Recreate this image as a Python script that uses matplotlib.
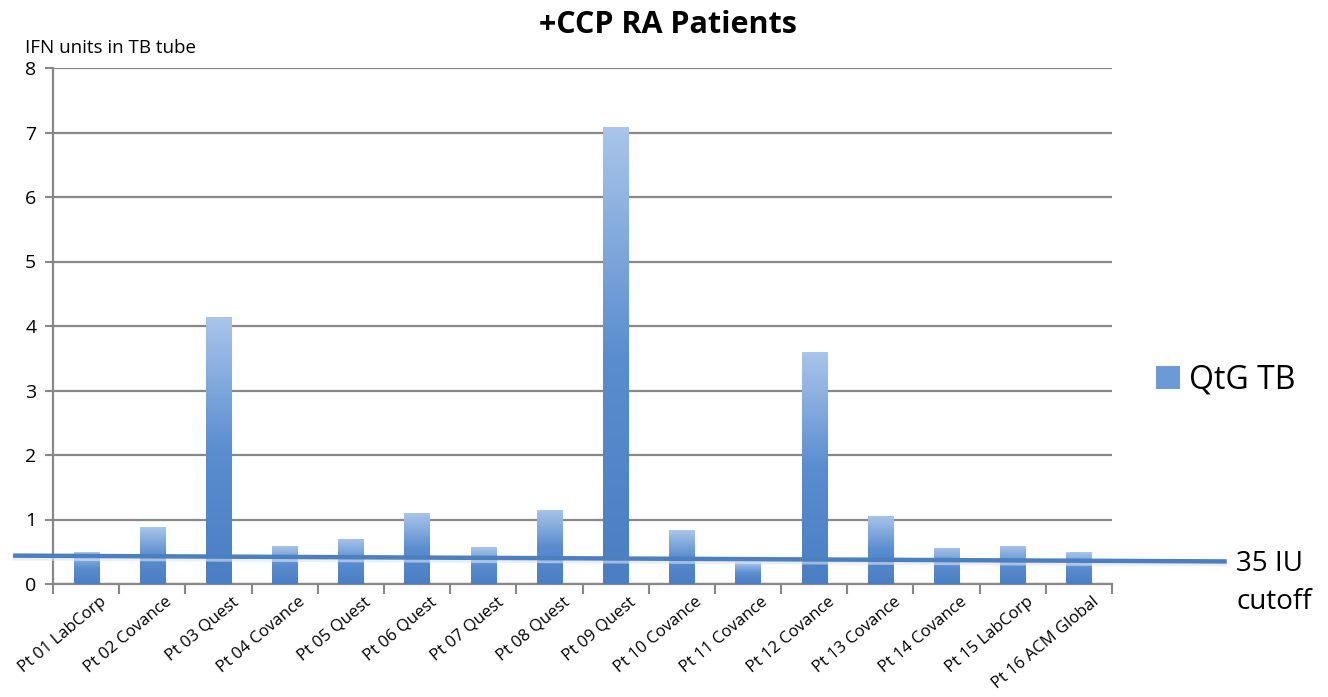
import numpy as np
import matplotlib
matplotlib.use("Agg")
import matplotlib.pyplot as plt
import matplotlib.transforms as mtransforms
from matplotlib.colors import LinearSegmentedColormap
from matplotlib.patches import Patch

# Data
patients = ["Pt 01 LabCorp", "Pt 02 Covance", "Pt 03 Quest", "Pt 04 Covance",
            "Pt 05 Quest", "Pt 06 Quest", "Pt 07 Quest", "Pt 08 Quest",
            "Pt 09 Quest", "Pt 10 Covance", "Pt 11 Covance", "Pt 12 Covance",
            "Pt 13 Covance", "Pt 14 Covance", "Pt 15 LabCorp", "Pt 16 ACM Global"]
qtg_tb = [0.49, 0.88, 4.14, 0.59, 0.70, 1.10, 0.57, 1.15,
          7.08, 0.83, 0.34, 3.60, 1.06, 0.56, 0.59, 0.49]
cutoff_x = [-1.07, 17.2]
cutoff_y = [0.44, 0.35]
y_ticks = [0, 1, 2, 3, 4, 5, 6, 7, 8]

plt.rcParams['font.family'] = ['Open Sans', 'DejaVu Sans']

fig = plt.figure(figsize=(13.28, 6.97), dpi=100)
ax = fig.add_axes([53 / 1328, 113 / 697, (1112 - 53) / 1328, (584 - 68) / 697])

x = np.arange(len(patients))
bars = ax.bar(x, qtg_tb, width=0.38, color='#5b8fd0', zorder=2)

# gradient fill: light at top, darker at bottom
cmap = LinearSegmentedColormap.from_list('blu', ['#4a7fc4', '#5a8dcf', '#a9c5ea'])
grad = np.linspace(0, 1, 256).reshape(-1, 1)
for b in bars:
    x0, y0 = b.get_x(), b.get_y()
    w, h = b.get_width(), b.get_height()
    im = ax.imshow(grad, cmap=cmap, aspect='auto', origin='lower',
                   extent=[x0, x0 + w, y0, y0 + h], zorder=3)
    im.set_clip_path(b)

ax.set_xlim(-0.5, len(patients) - 0.5)
ax.set_ylim(0, 8)
ax.set_yticks(y_ticks)
ax.tick_params(axis='y', labelsize=14, length=6, width=1.5, color='#888888', pad=6)
ax.grid(axis='y', color='#888888', linewidth=1.6, zorder=0)
ax.set_axisbelow(True)

ax.set_xticks(np.arange(len(patients) + 1) - 0.5)
ax.set_xticks(x, minor=True)
ax.set_xticklabels([])
ax.set_xticklabels(patients, minor=True, rotation=40, ha='right',
                   rotation_mode='anchor', fontsize=12)
ax.tick_params(axis='x', which='major', length=7, width=1.5, color='#888888')
ax.tick_params(axis='x', which='minor', length=0, pad=7)
offset = mtransforms.ScaledTranslation(0.13, 0, fig.dpi_scale_trans)
for lbl in ax.get_xticklabels(minor=True):
    lbl.set_transform(lbl.get_transform() + offset)

for s in ['top', 'right']:
    ax.spines[s].set_visible(False)
for s in ['left', 'bottom']:
    ax.spines[s].set_color('#888888')
    ax.spines[s].set_linewidth(1.6)

# cutoff line with faint shadow
ax.plot(cutoff_x, [v - 0.035 for v in cutoff_y], color='#dfe5ee', lw=4,
        clip_on=False, zorder=4, alpha=0.6)
ax.plot(cutoff_x, cutoff_y, color='#4a7fc0', lw=3.2, clip_on=False, zorder=5)

fig.text(1236 / 1328, 1 - 583 / 697, "35 IU\ncutoff", fontsize=20,
         ha='left', va='center', linespacing=1.45)

fig.text(668 / 1328, 1 - 25 / 697, "+CCP RA Patients", fontsize=22,
         fontweight='bold', ha='center', va='center')
fig.text(25 / 1328, 1 - 48 / 697, "IFN units in TB tube", fontsize=13.5,
         ha='left', va='center')

fig.legend(handles=[Patch(facecolor='#6b9bd6', edgecolor='none')], labels=['QtG TB'],
           loc='center left', bbox_to_anchor=(1127 / 1328, 1 - 380 / 697),
           frameon=False, fontsize=23, handlelength=0.75, handleheight=0.75,
           handletextpad=0.3)

fig.savefig('out.png', dpi=100)
